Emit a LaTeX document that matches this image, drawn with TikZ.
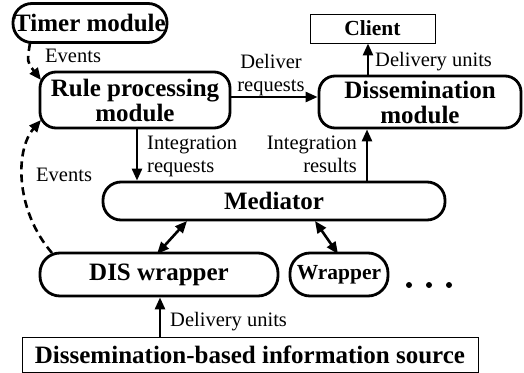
\documentclass[tikz,border=0pt]{standalone}
\usepackage{fontspec}
\setmainfont{Liberation Serif}
\usetikzlibrary{arrows.meta}
\tikzset{
  module/.style={draw, line width=2.8pt, inner sep=0pt, align=center, font=\fontsize{25}{25}\selectfont\bfseries},
  plainbox/.style={draw, line width=0.9pt, inner sep=0pt, align=center, font=\fontsize{25}{25}\selectfont\bfseries},
  lbl/.style={inner sep=0pt, font=\fontsize{20.5}{23}\selectfont},
  flow/.style={line width=2.6pt, -{Triangle[length=12pt,width=10pt]}},
  both/.style={line width=2.6pt, {Triangle[length=12pt,width=10pt]}-{Triangle[length=12pt,width=10pt]}},
  ev/.style={line width=2.6pt, dash pattern=on 8pt off 5pt, -{Triangle[length=12pt,width=10pt]}}
}
\begin{document}
\begin{tikzpicture}[x=1pt,y=-1pt]
\useasboundingbox (0,0) rectangle (524,372);
\node[module, minimum width=154pt, minimum height=39pt, rounded corners=19pt] (timer) at (90,23) {Timer module};
\node[module, minimum width=190pt, minimum height=56pt, rounded corners=16pt] (rule) at (135,100) {Rule processing\\module};
\node[plainbox, minimum width=125pt, minimum height=29pt, font=\fontsize{21.5}{22}\selectfont\bfseries] (client) at (372.5,28.5) {Client};
\node[module, minimum width=202pt, minimum height=52pt, rounded corners=16pt] (dis) at (420,102) {Dissemination\\module};
\node[module, minimum width=342pt, minimum height=38pt, rounded corners=18pt] (med) at (274,201) {Mediator};
\node[module, minimum width=238pt, minimum height=43pt, rounded corners=20pt] (diswrap) at (159,274.5) {DIS wrapper};
\node[module, minimum width=98pt, minimum height=43pt, rounded corners=20pt, font=\fontsize{21.5}{22}\selectfont\bfseries] (wrap) at (339,274.5) {Wrapper};
\node[plainbox, minimum width=456pt, minimum height=35pt] (src) at (250,354.5) {Dissemination-based information source};
\fill (409,285) circle (3pt) (429,285) circle (3pt) (449,285) circle (3pt);

\coordinate (t1) at (30,43);
\coordinate (r1) at (41,80);
\draw[ev] (t1) .. controls (27,62) .. (r1);
\node[lbl, anchor=base west] (ev1) at (45,62) {Events};

\coordinate (w1) at (52,253);
\coordinate (r2) at (41,120);
\draw[ev] (w1) .. controls (15,210) and (15,150) .. (r2);
\node[lbl, anchor=base west] (ev2) at (36,181) {Events};

\draw[flow] (rule.east |- 0,97) -- (dis.west |- 0,97);
\node[lbl, align=center, anchor=north] (dr) at (271,54) {Deliver\\requests};

\draw[flow] (dis.north -| 368,0) -- (client.south -| 368,0);
\node[lbl, anchor=base west] (du1) at (375,66) {Delivery units};

\draw[flow] (rule.south -| 137,0) -- (med.north -| 137,0);
\node[lbl, align=left, anchor=north west] (ir) at (147,136) {Integration\\requests};

\draw[flow] (med.north -| 367,0) -- (dis.south -| 367,0);
\node[lbl, align=right, anchor=north east] (ires) at (357,136) {Integration\\results};

\coordinate (m1) at (187,221);
\coordinate (d1) at (157,254);
\draw[both] (m1) -- (d1);
\coordinate (m2) at (315,221);
\coordinate (d2) at (338,254);
\draw[both] (m2) -- (d2);

\draw[flow] (src.north -| 160,0) -- (diswrap.south -| 160,0);
\node[lbl, anchor=base west] (du2) at (170,326) {Delivery units};
\end{tikzpicture}
\end{document}
